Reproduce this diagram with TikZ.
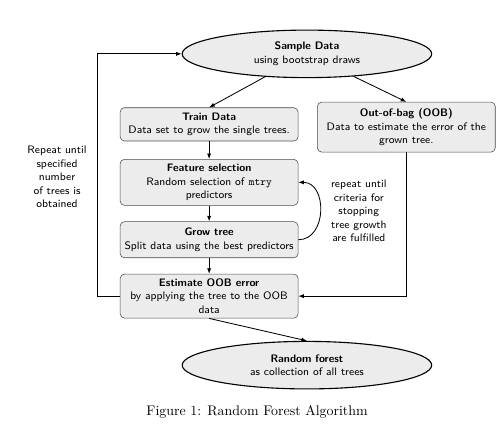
\documentclass[tikz,border=0pt]{standalone}
\usepackage{amsmath}
\usepackage{tikz}
\usetikzlibrary{positioning, arrows.meta, shapes.geometric}
\usepackage{xcolor}

\begin{document}
\begin{tikzpicture}[node distance=0.42cm, every node/.style={font=\sffamily\fontsize{7.8pt}{9.7pt}\selectfont}]
  \tikzstyle{data} = [ellipse, minimum width=6.3cm, minimum height=1.2cm, align=center, draw=black, thick, fill=gray!15]
  \tikzstyle{process} = [rectangle, rounded corners=3pt, minimum width=4.49cm, inner xsep=2pt, inner ysep=3pt, align=center, draw=black!70, fill=gray!15]
  \tikzstyle{arrow} = [semithick,-{Latex[length=4pt,width=3pt]}]
  \tikzstyle{note} = [align=center]

  \useasboundingbox (0,0) rectangle (12.65,10.96);

  \node (sample) [data] at (7.75,9.60) {\textbf{Sample Data}\\using bootstrap draws};
  \node (train) [process, minimum height=0.84cm] at (5.28,7.82) {\textbf{Train Data}\\Data set to grow the single trees.};
  \node (oob) [process, minimum height=1.26cm] at (10.26,7.75) {\textbf{Out-of-bag (OOB)}\\Data to estimate the error of the\\grown tree.};
  \node (feature) [process, minimum height=1.16cm, below=0.45cm of train] {\textbf{Feature selection}\\Random selection of \texttt{mtry}\\predictors};
  \node (grow) [process, minimum height=0.91cm, below=0.4cm of feature] {\textbf{Grow tree}\\Split data using the best predictors};
  \node (estimate) [process, minimum height=1.11cm, below=0.4cm of grow] {\textbf{Estimate OOB error}\\by applying the tree to the OOB\\data};
  \node (forest) [data] at (7.75,1.74) {\textbf{Random forest}\\as collection of all trees};

  \node (repeat) [note] at (1.44,6.49) {Repeat until\\specified\\number\\of trees is\\obtained};
  \node (criteria) [note] at (9.06,5.63) {repeat until\\criteria for\\stopping\\tree growth\\are fulfilled};

  \node (caption) [font=\rmfamily\normalsize] at (6.49,0.56) {Figure 1: Random Forest Algorithm};

  \draw [arrow] (sample) -- (train.north);
  \draw [arrow] (sample) -- (oob.north);
  \draw [arrow] (train) -- (feature);
  \draw [arrow] (feature) -- (grow);
  \draw [arrow] (grow) -- (estimate);
  \draw [arrow] (grow.east) to [out=0, in=0, looseness=1.3] (feature.east);
  \draw [arrow] (oob.south) |- (estimate.east);
  \draw [arrow] (estimate.west) -- ++(-0.58,0) |- (sample.west);
  \draw [arrow] (estimate.south) -- (forest.north);
\end{tikzpicture}
\end{document}
